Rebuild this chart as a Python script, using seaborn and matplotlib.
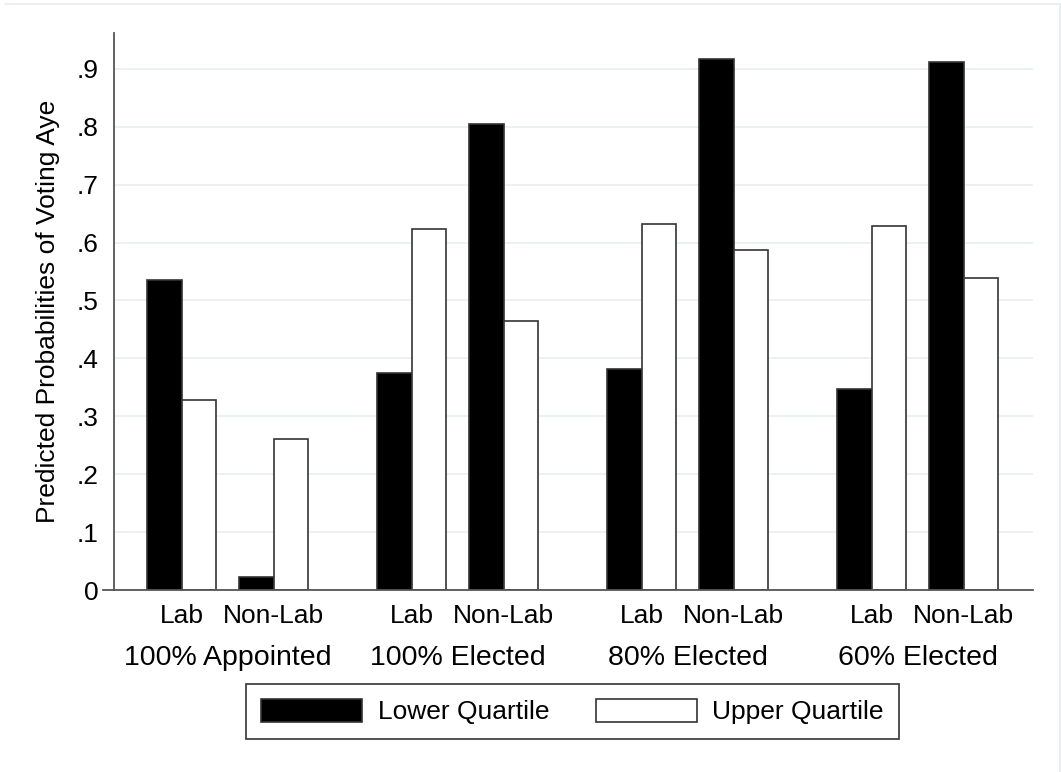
import numpy as np
import pandas as pd
import seaborn as sns
import matplotlib.pyplot as plt
from matplotlib.lines import Line2D

# values
groups = ['100% Appointed', '100% Elected', '80% Elected', '60% Elected']
parties = ['Lab', 'Non-Lab']
lower_quartile = [0.536, 0.022, 0.375, 0.805, 0.381, 0.917, 0.347, 0.912]
upper_quartile = [0.328, 0.261, 0.623, 0.465, 0.632, 0.587, 0.628, 0.538]
y_ticks = [0, .1, .2, .3, .4, .5, .6, .7, .8, .9]
y_tick_labels = ['0', '.1', '.2', '.3', '.4', '.5', '.6', '.7', '.8', '.9']

# pair positions: two parties per group, wider gap between groups
pos = [g * 2.5 + p for g in range(len(groups)) for p in range(len(parties))]

df = pd.DataFrame({
    'pos': pos * 2,
    'prob': lower_quartile + upper_quartile,
    'quartile': ['Lower Quartile'] * len(pos) + ['Upper Quartile'] * len(pos),
})

sns.set_style('white', {'text.color': 'black', 'axes.labelcolor': 'black',
                        'xtick.color': 'black', 'ytick.color': 'black'})
plt.rcParams['font.family'] = ['Liberation Sans', 'DejaVu Sans']

fig = plt.figure(figsize=(10.61, 7.72), dpi=100)
ax = fig.add_axes([114 / 1061, 1 - 590 / 772, 919 / 1061, 557 / 772])

sns.barplot(data=df, x='pos', y='prob', hue='quartile', native_scale=True,
            width=0.75, palette={'Lower Quartile': 'black', 'Upper Quartile': 'white'},
            edgecolor='#333333', linewidth=1.2, errorbar=None, ax=ax)

ax.set_xlim(-0.7337, 9.2554)
ax.set_ylim(0, 0.962)
ax.set_yticks(y_ticks)
ax.set_yticklabels(y_tick_labels)
ax.yaxis.grid(True, color='#eaf1f3', linewidth=1.3)
ax.set_axisbelow(True)

ax.set_xticks(pos)
ax.set_xticklabels(parties * len(groups))
ax.tick_params(axis='x', length=0, pad=10, labelsize=19)
ax.tick_params(axis='y', length=8, width=1.1, color='#555555', pad=3, labelsize=19)
ax.set_xlabel('')

for i, g in enumerate(groups):
    ax.text(i * 2.5 + 0.5, -0.1212, g, transform=ax.get_xaxis_transform(),
            ha='center', va='center', fontsize=20.5)

ax.set_ylabel('Predicted Probabilities of Voting Aye', fontsize=19)
ax.yaxis.label.set_verticalalignment('center')
ax.yaxis.set_label_coords((48 - 114) / 919, 0.5)

for s in ['top', 'right']:
    ax.spines[s].set_visible(False)
for s in ['left', 'bottom']:
    ax.spines[s].set_color('#555555')
    ax.spines[s].set_linewidth(1.3)
ax.spines['bottom'].set_bounds(-0.7337 - 11 / 92, 9.2554)
ax.spines['bottom'].set_clip_on(False)

handles, labels = ax.get_legend_handles_labels()
ax.get_legend().remove()
leg = fig.legend(handles, labels, loc='center', bbox_to_anchor=(572.5 / 1061, 1 - 711.5 / 772),
                 ncol=2, fontsize=19, handlelength=3.83, handleheight=1.0,
                 handletextpad=0.6, columnspacing=1.75, fancybox=False,
                 edgecolor='#333333', framealpha=1, borderpad=0.55)
leg.get_frame().set_linewidth(1.2)

# faint outer frame like the original export
fig.add_artist(Line2D([5 / 1061, 1060 / 1061], [1 - 4 / 772, 1 - 4 / 772],
                      color='#e6eef0', linewidth=1.2))
fig.add_artist(Line2D([1060 / 1061, 1060 / 1061], [1 - 4 / 772, 0],
                      color='#e6eef0', linewidth=1.2))

fig.savefig('out.png', dpi=100)
